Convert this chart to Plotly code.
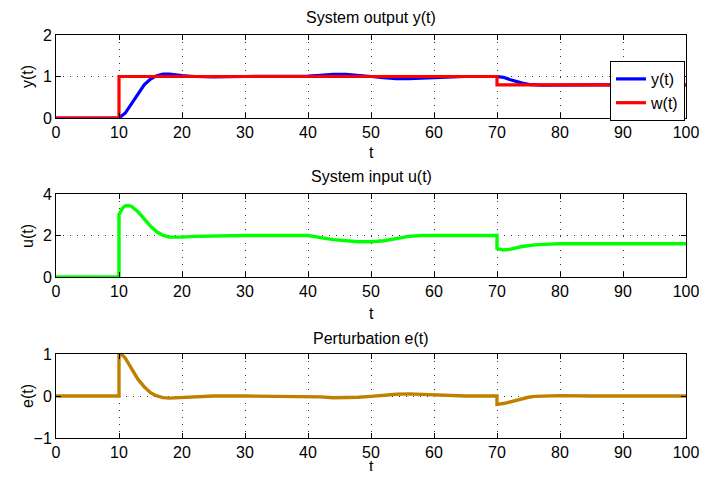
import plotly.graph_objects as go

# ---------------- data ----------------
t_y = [0, 10, 11, 12, 13, 14, 15, 16, 17, 18, 19, 20, 22, 25, 30, 35, 38, 40, 42, 44, 46, 48,
       50, 52, 54, 56, 58, 60, 62, 65, 70, 71, 72, 73, 74, 75, 76, 77, 78, 80, 85, 100]
y_vals = [0, 0, 0.12, 0.35, 0.6, 0.8, 0.94, 1.02, 1.06, 1.06, 1.04, 1.02, 1.0, 0.99, 1.0, 1.0,
          1.0, 1.01, 1.03, 1.05, 1.05, 1.03, 1.0, 0.97, 0.95, 0.95, 0.96, 0.98, 0.99, 1.0, 1.0,
          0.98, 0.93, 0.88, 0.84, 0.81, 0.795, 0.79, 0.79, 0.795, 0.8, 0.8]

t_w = [0, 10, 10, 70, 70, 100]
w_vals = [0, 0, 1, 1, 0.8, 0.8]

t_u = [0, 10, 10, 10.5, 11, 11.5, 12, 13, 14, 15, 16, 17, 18, 19, 20, 22, 25, 30, 40, 41, 42,
       44, 46, 48, 50, 52, 54, 56, 58, 60, 70, 70, 70.5, 71, 72, 73, 74, 76, 78, 80, 90, 100]
u_vals = [0, 0, 3.0, 3.3, 3.43, 3.45, 3.4, 3.15, 2.8, 2.45, 2.18, 2.0, 1.92, 1.9, 1.92, 1.96,
          1.99, 2.0, 2.0, 1.97, 1.9, 1.8, 1.73, 1.7, 1.7, 1.75, 1.85, 1.96, 2.0, 2.0, 2.0, 1.38,
          1.32, 1.3, 1.33, 1.4, 1.47, 1.55, 1.6, 1.61, 1.6, 1.6]

t_e = [0, 10, 10, 10.5, 11, 11.5, 12, 13, 14, 15, 16, 17, 18, 19, 20, 22, 25, 30, 40, 42, 44,
       46, 48, 50, 52, 54, 56, 58, 60, 62, 65, 70, 70, 71, 72, 73, 74, 75, 76, 77, 78, 80, 85,
       100]
e_vals = [0, 0, 1.0, 0.98, 0.9, 0.77, 0.62, 0.4, 0.22, 0.08, 0.0, -0.04, -0.05, -0.04, -0.03,
          -0.01, 0, 0, 0, -0.02, -0.04, -0.04, -0.03, -0.01, 0.02, 0.04, 0.05, 0.04, 0.02, 0.01,
          0, 0, -0.2, -0.18, -0.14, -0.1, -0.06, -0.03, -0.01, 0.0, 0.01, 0.01, 0.0, 0]

x_ticks = [0, 10, 20, 30, 40, 50, 60, 70, 80, 90, 100]
y1_ticks = [0, 1, 2]
y2_ticks = [0, 2, 4]
y3_ticks = [-1, 0, 1]

titles = ["System output y(t)", "System input u(t)", "Perturbation e(t)"]
ylabels = ["y(t)", "u(t)", "e(t)"]

# ---------------- figure ----------------
OFF = 8  # page body margin of the html page
W, H = 707 - 2 * OFF, 479 - 2 * OFF
FONT = "Liberation Sans, Arial, Helvetica, sans-serif"

def px_x(p):
    return (p - OFF) / W

def px_y(p):
    return 1 - (p - OFF) / H

X_LEFT, X_RIGHT = 56, 686
XC = (X_LEFT + X_RIGHT) / 2
xdom = [px_x(X_LEFT), px_x(X_RIGHT)]
ydoms = [[px_y(118), px_y(35)], [px_y(277), px_y(194)], [px_y(438), px_y(354)]]

fig = go.Figure()
fig.add_trace(go.Scatter(x=t_y, y=y_vals, mode="lines", name="y(t)",
                         line=dict(color="#0000FF", width=3.2), xaxis="x", yaxis="y"))
fig.add_trace(go.Scatter(x=t_w, y=w_vals, mode="lines", name="w(t)",
                         line=dict(color="#FF0000", width=3.2), xaxis="x", yaxis="y"))
fig.add_trace(go.Scatter(x=t_u, y=u_vals, mode="lines", name="u(t)", showlegend=False,
                         line=dict(color="#00FF00", width=3.4), xaxis="x2", yaxis="y2"))
fig.add_trace(go.Scatter(x=t_e, y=e_vals, mode="lines", name="e(t)", showlegend=False,
                         line=dict(color="#BF8000", width=3.4), xaxis="x3", yaxis="y3"))

axis_common = dict(showline=True, linecolor="black", linewidth=1, mirror="ticks",
                   ticks="inside", ticklen=5, tickcolor="black", tickwidth=1,
                   showgrid=True, gridcolor="#333333", gridwidth=1, griddash="1px,6px",
                   zeroline=False, automargin=False, ticklabeloverflow="allow",
                   tickfont=dict(family=FONT, size=16, color="black"))

layout = dict(width=W, height=H, margin=dict(l=0, r=0, t=0, b=0, autoexpand=False),
              paper_bgcolor="white", plot_bgcolor="white",
              font=dict(family=FONT, size=16, color="black"),
              legend=dict(x=px_x(X_RIGHT - 1), y=px_y(61), xanchor="right", yanchor="top",
                          bgcolor="white", bordercolor="black", borderwidth=1,
                          font=dict(family=FONT, size=16, color="black"),
                          tracegroupgap=0))

yticks_all = [y1_ticks, y2_ticks, y3_ticks]
for i in range(3):
    xs = "xaxis" if i == 0 else f"xaxis{i+1}"
    ys = "yaxis" if i == 0 else f"yaxis{i+1}"
    anchor_y = "y" if i == 0 else f"y{i+1}"
    anchor_x = "x" if i == 0 else f"x{i+1}"
    layout[xs] = dict(domain=xdom, anchor=anchor_y, range=[0, 100], tickvals=x_ticks,
                      **axis_common)
    yt = yticks_all[i]
    layout[ys] = dict(domain=ydoms[i], anchor=anchor_x, range=[yt[0], yt[-1]], tickvals=yt,
                      **axis_common)

fig.update_layout(**layout)

title_y = [17, 176, 338]
xlabel_y = [153, 313, 466]
ylabel_y = [77, 236, 396]
for i in range(3):
    fig.add_annotation(text=titles[i], x=px_x(XC), y=px_y(title_y[i]), xref="paper",
                       yref="paper", showarrow=False, xanchor="center", yanchor="middle",
                       font=dict(family=FONT, size=16, color="black"))
    fig.add_annotation(text="t", x=px_x(XC), y=px_y(xlabel_y[i]), xref="paper", yref="paper",
                       showarrow=False, xanchor="center", yanchor="middle",
                       font=dict(family=FONT, size=16, color="black"))
    fig.add_annotation(text=ylabels[i], x=px_x(27), y=px_y(ylabel_y[i]), xref="paper",
                       yref="paper", showarrow=False, xanchor="center", yanchor="middle",
                       textangle=-90, font=dict(family=FONT, size=16, color="black"))

fig.write_html("out.html")
